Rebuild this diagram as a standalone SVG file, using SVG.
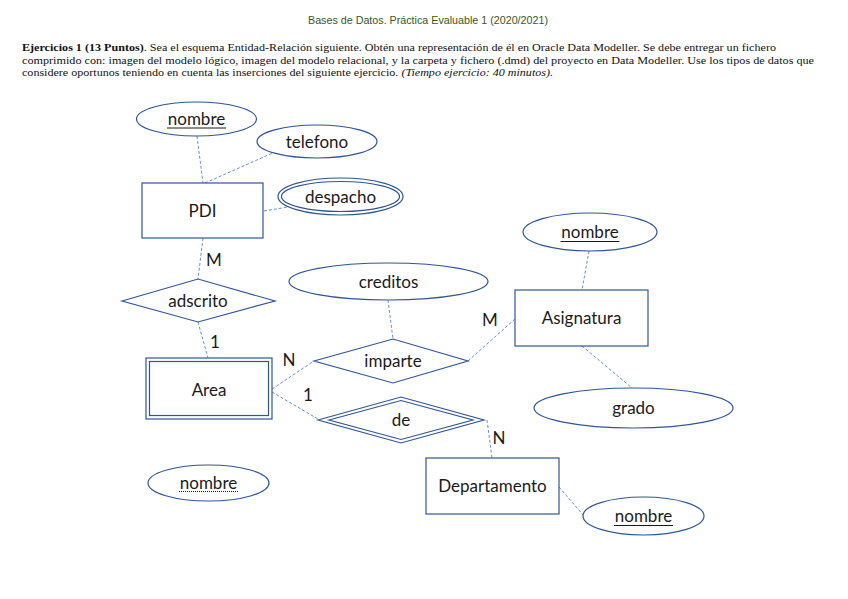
<svg xmlns="http://www.w3.org/2000/svg" width="848" height="599" viewBox="0 0 848 599">
<style>
.bg{fill:#ffffff}
.shape{fill:#ffffff;stroke:#2F5597;stroke-width:1.2}
.shape2{fill:none;stroke:#2F5597;stroke-width:1.2}
.conn{fill:none;stroke:#4472C4;stroke-width:0.8;stroke-dasharray:3 2}
.lbl{font-family:Lato,"Open Sans","Liberation Sans",sans-serif;font-size:17px;fill:#1a1a1a;text-anchor:middle}
.card{font-family:Lato,"Open Sans","Liberation Sans",sans-serif;font-size:17px;fill:#1a1a1a;text-anchor:middle}
.ul{stroke:#1a1a1a;stroke-width:1}
.ulpk{stroke:#1a1a1a;stroke-width:1;stroke-dasharray:1 1}
.hdr{font-family:"Liberation Sans",Lato,sans-serif;font-size:11px;fill:#385723}
.par{font-family:"Liberation Serif","Times New Roman",serif;font-size:10.5px;fill:#111}
</style>
<rect class="bg" x="0" y="0" width="848" height="599"/>
<text class="hdr" x="308" y="24" textLength="240" lengthAdjust="spacingAndGlyphs">Bases de Datos. Práctica Evaluable 1 (2020/2021)</text>
<text class="par" x="22" y="51" textLength="754" lengthAdjust="spacingAndGlyphs"><tspan font-weight="bold">Ejercicios 1 (13 Puntos)</tspan>. Sea el esquema Entidad-Relación siguiente. Obtén una representación de él en Oracle Data Modeller. Se debe entregar un fichero</text>
<text class="par" x="22" y="63.5" textLength="792" lengthAdjust="spacingAndGlyphs">comprimido con: imagen del modelo lógico, imagen del modelo relacional, y la carpeta y fichero (.dmd) del proyecto en Data Modeller. Use los tipos de datos que</text>
<text class="par" x="22" y="76" textLength="531" lengthAdjust="spacingAndGlyphs">considere oportunos teniendo en cuenta las inserciones del siguiente ejercicio. <tspan font-style="italic">(Tiempo ejercicio: 40 minutos).</tspan></text>

<g id="connectors">
<line class="conn" x1="197" y1="136" x2="203" y2="183"/>
<line class="conn" x1="205" y1="183" x2="275" y2="152"/>
<line class="conn" x1="264" y1="211" x2="288" y2="207"/>
<line class="conn" x1="203" y1="238" x2="198" y2="279"/>
<line class="conn" x1="198" y1="322" x2="208" y2="358"/>
<line class="conn" x1="272" y1="389" x2="314" y2="361"/>
<line class="conn" x1="388" y1="300" x2="393" y2="339"/>
<line class="conn" x1="468" y1="361" x2="515" y2="319"/>
<line class="conn" x1="589" y1="251" x2="582" y2="290"/>
<line class="conn" x1="582" y1="346" x2="632" y2="388"/>
<line class="conn" x1="272" y1="392" x2="318" y2="419"/>
<line class="conn" x1="487" y1="420" x2="492" y2="458"/>
<line class="conn" x1="559" y1="487" x2="584" y2="516"/>
<text class="card" x="214" y="266">M</text>
<text class="card" x="215" y="348">1</text>
<text class="card" x="289" y="366">N</text>
<text class="card" x="490" y="326">M</text>
<text class="card" x="308" y="401">1</text>
<text class="card" x="499" y="444">N</text>
</g>

<g id="pdi_nombre">
<ellipse class="shape" cx="196.5" cy="119" rx="60" ry="17"/>
<text class="lbl" x="196.5" y="125">nombre</text>
<line class="ul" x1="167" y1="128" x2="226" y2="128"/>
</g>
<g id="pdi_telefono">
<ellipse class="shape" cx="317" cy="141.5" rx="60" ry="16.5"/>
<text class="lbl" x="317" y="147.5">telefono</text>
</g>
<g id="pdi">
<rect class="shape" x="142" y="183" width="121" height="55"/>
<text class="lbl" x="202.5" y="216.5">PDI</text>
</g>
<g id="pdi_despacho">
<ellipse class="shape" cx="340.5" cy="196.5" rx="62.5" ry="18.5"/>
<ellipse class="shape2" cx="340.5" cy="196.5" rx="59" ry="15"/>
<text class="lbl" x="340.5" y="202.5">despacho</text>
</g>
<g id="adscrito">
<polygon class="shape" points="122,301 198,279 275,301 198,322"/>
<text class="lbl" x="198" y="307">adscrito</text>
</g>
<g id="area">
<rect class="shape" x="146" y="358" width="126" height="61"/>
<rect class="shape2" x="149.5" y="361.5" width="119" height="54"/>
<text class="lbl" x="209" y="396">Area</text>
</g>
<g id="area_nombre">
<ellipse class="shape" cx="208.5" cy="483" rx="60.5" ry="18"/>
<text class="lbl" x="208.5" y="488.5">nombre</text>
<line class="ulpk" x1="179" y1="491.5" x2="238" y2="491.5"/>
</g>
<g id="creditos">
<ellipse class="shape" cx="388.5" cy="281.5" rx="99.5" ry="18.5"/>
<text class="lbl" x="388.5" y="287.5">creditos</text>
</g>
<g id="imparte">
<polygon class="shape" points="314,361 393,339 468,361 393,383"/>
<text class="lbl" x="393" y="367">imparte</text>
</g>
<g id="de">
<polygon class="shape" points="318,420 401,397 484,420 401,443"/>
<polygon class="shape2" points="329,420 401,400.5 473,420 401,439.5"/>
<text class="lbl" x="401" y="426">de</text>
</g>
<g id="asignatura">
<rect class="shape" x="515" y="290" width="133" height="56"/>
<text class="lbl" x="581.5" y="324">Asignatura</text>
</g>
<g id="asig_nombre">
<ellipse class="shape" cx="590" cy="232" rx="67" ry="19"/>
<text class="lbl" x="590" y="238">nombre</text>
<line class="ul" x1="560.5" y1="241.5" x2="619.5" y2="241.5"/>
</g>
<g id="asig_grado">
<ellipse class="shape" cx="633.5" cy="408" rx="99.5" ry="20"/>
<text class="lbl" x="633.5" y="414">grado</text>
</g>
<g id="departamento">
<rect class="shape" x="426" y="458" width="133" height="56"/>
<text class="lbl" x="492.5" y="492">Departamento</text>
</g>
<g id="dep_nombre">
<ellipse class="shape" cx="643.5" cy="516" rx="60.5" ry="19"/>
<text class="lbl" x="643.5" y="522">nombre</text>
<line class="ul" x1="614" y1="525.5" x2="673" y2="525.5"/>
</g>
</svg>
